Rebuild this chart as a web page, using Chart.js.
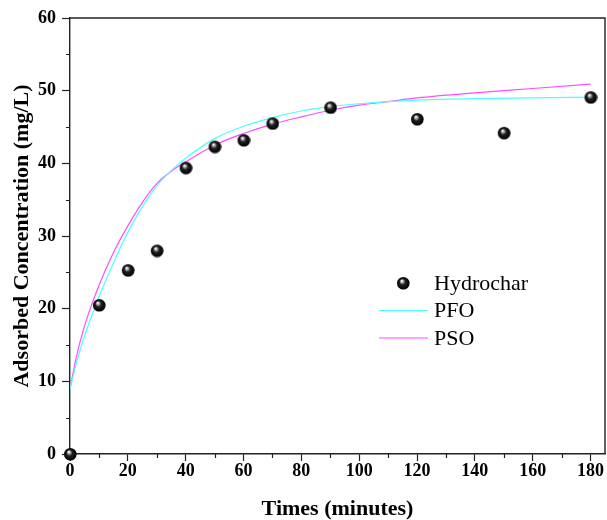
<!DOCTYPE html>
<html>
<head>
<meta charset="utf-8">
<script src="https://cdn.jsdelivr.net/npm/chart.js@4/dist/chart.umd.min.js"></script>
<style>
html,body{margin:0;padding:0;background:#fff;}
#wrap{width:607px;height:520px;position:relative;}
</style>
</head>
<body>
<div id="wrap"><canvas id="c" width="607" height="520"></canvas></div>
<script>
// ---- data ----
const times = [0, 10, 20, 30, 40, 50, 60, 70, 90, 120, 150, 180];
const hydrochar = [0, 20.5, 25.3, 28.0, 39.4, 42.3, 43.2, 45.5, 47.7, 46.1, 44.2, 49.1];
const fitTimes = [0, 2, 5, 10, 15, 20, 25, 30, 35, 40, 50, 60, 70, 80, 90, 100, 110, 120, 140, 160, 180];
const pfo = [8.9, 12.2, 16.2, 21.6, 26.3, 30.5, 34.0, 36.9, 39.0, 40.7, 43.4, 45.1, 46.3, 47.2, 47.8, 48.2, 48.5, 48.7, 48.9, 49.0, 49.1];
const pso = [8.9, 13.0, 17.6, 23.2, 27.7, 31.4, 34.6, 37.2, 38.9, 40.2, 42.5, 44.1, 45.4, 46.4, 47.3, 48.0, 48.5, 49.0, 49.7, 50.3, 50.9];
const seriesNames = ['Hydrochar', 'PFO', 'PSO'];
const xTickValues = [0, 20, 40, 60, 80, 100, 120, 140, 160, 180];
const xMinorValues = [10, 30, 50, 70, 90, 110, 130, 150, 170];
const yMinorValues = [5, 15, 25, 35, 45, 55];
const xTitle = 'Times (minutes)';
const yTitle = 'Adsorbed Concentration (mg/L)';

const cyan = '#4dffff';
const magenta = '#ff4dff';

// sphere marker
function makeBall(r) {
  const s = r * 2 + 2;
  const cv = document.createElement('canvas');
  cv.width = s; cv.height = s;
  const g = cv.getContext('2d');
  const cx = s / 2, cy = s / 2;
  const grad = g.createRadialGradient(cx - r * 0.25, cy - r * 0.4, 0.3, cx, cy, r);
  grad.addColorStop(0, '#ffffff');
  grad.addColorStop(0.18, '#b0b0b0');
  grad.addColorStop(0.45, '#202020');
  grad.addColorStop(1, '#000000');
  g.fillStyle = grad;
  g.beginPath(); g.arc(cx, cy, r, 0, Math.PI * 2); g.fill();
  return cv;
}
const ball = makeBall(6.3);

const serif = "'Liberation Serif', 'Times New Roman', serif";

const framePlugin = {
  id: 'frame',
  afterDraw(chart) {
    const ctx = chart.ctx;
    const a = chart.chartArea;
    const xs = chart.scales.x, ys = chart.scales.y;
    ctx.save();
    ctx.strokeStyle = '#222';
    ctx.lineWidth = 1.4;
    ctx.beginPath();
    ctx.moveTo(a.left, a.top); ctx.lineTo(a.right, a.top); ctx.lineTo(a.right, a.bottom);
    ctx.stroke();
    ctx.lineWidth = 1.2;
    ctx.beginPath();
    yMinorValues.forEach(v => {
      const py = Math.round(ys.getPixelForValue(v)) + 0.5;
      ctx.moveTo(a.left - 4, py); ctx.lineTo(a.left, py);
    });
    xMinorValues.forEach(v => {
      const px = Math.round(xs.getPixelForValue(v)) + 0.5;
      ctx.moveTo(px, a.bottom); ctx.lineTo(px, a.bottom + 4);
    });
    ctx.stroke();
    // x tick labels
    ctx.font = 'bold 18px ' + serif;
    ctx.fillStyle = '#000';
    ctx.textAlign = 'center';
    ctx.textBaseline = 'middle';
    xTickValues.forEach(v => {
      ctx.fillText(String(v), xs.getPixelForValue(v), a.bottom + 17);
    });
    // legend
    const lx = 379, ly = 283, gap = 27.5;
    ctx.font = '22px ' + serif;
    ctx.textBaseline = 'middle';
    ctx.textAlign = 'left';
    ctx.drawImage(ball, 403 - ball.width / 2, ly - ball.height / 2);
    ctx.fillText(seriesNames[0], 434, ly + 1);
    ctx.lineWidth = 1.2;
    ctx.strokeStyle = cyan;
    ctx.beginPath(); ctx.moveTo(lx, ly + gap); ctx.lineTo(428, ly + gap); ctx.stroke();
    ctx.fillText(seriesNames[1], 434, ly + gap + 1);
    ctx.strokeStyle = magenta;
    ctx.beginPath(); ctx.moveTo(lx, ly + 2 * gap); ctx.lineTo(428, ly + 2 * gap); ctx.stroke();
    ctx.fillText(seriesNames[2], 434, ly + 2 * gap + 1);
    ctx.restore();
  }
};

new Chart(document.getElementById('c'), {
  type: 'scatter',
  data: {
    datasets: [
      {
        label: seriesNames[0],
        data: times.map((t, i) => ({ x: t, y: hydrochar[i] })),
        pointStyle: ball,
        pointRadius: 6,
        showLine: false,
        clip: false
      },
      {
        label: seriesNames[1],
        data: fitTimes.map((t, i) => ({ x: t, y: pfo[i] })),
        showLine: true,
        borderColor: cyan,
        borderWidth: 1.2,
        pointRadius: 0,
        cubicInterpolationMode: 'monotone'
      },
      {
        label: seriesNames[2],
        data: fitTimes.map((t, i) => ({ x: t, y: pso[i] })),
        showLine: true,
        borderColor: magenta,
        borderWidth: 1.2,
        pointRadius: 0,
        cubicInterpolationMode: 'monotone'
      }
    ]
  },
  options: {
    responsive: false,
    animation: false,
    layout: { autoPadding: false, padding: { top: 18, right: 2, left: 0, bottom: 0 } },
    plugins: { legend: { display: false }, tooltip: { enabled: false } },
    scales: {
      x: {
        type: 'linear',
        min: 0, max: 185,
        afterBuildTicks(scale) { scale.ticks = xTickValues.map(v => ({ value: v })); },
        afterFit(scale) { scale.height = 66; },
        grid: { drawOnChartArea: false, drawTicks: true, tickLength: 7, tickColor: '#222', tickWidth: 1.2 },
        border: { display: true, color: '#222', width: 1.4 },
        ticks: { display: false },
        title: { display: true, text: xTitle, color: '#000', font: { family: serif, size: 22, weight: 'bold' }, padding: { top: 0, bottom: -3 } }
      },
      y: {
        min: 0, max: 60,
        ticks: { stepSize: 10, color: '#000', font: { family: serif, size: 18, weight: 'bold' }, padding: 6 },
        afterFit(scale) { scale.width = 70; },
        grid: { drawOnChartArea: false, drawTicks: true, tickLength: 8, tickColor: '#222', tickWidth: 1.2 },
        border: { display: true, color: '#222', width: 1.4 },
        title: { display: true, text: yTitle, color: '#000', font: { family: serif, size: 22, weight: 'bold' }, padding: { top: 9, bottom: 0 } }
      }
    }
  },
  plugins: [framePlugin]
});
</script>
</body>
</html>
